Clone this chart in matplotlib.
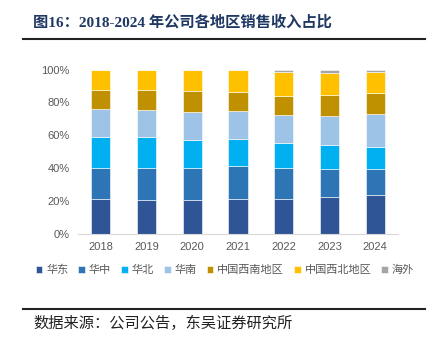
import matplotlib
matplotlib.use("Agg")
import matplotlib.pyplot as plt
from matplotlib.lines import Line2D
import numpy as np

plt.rcParams['font.family'] = ['Liberation Sans', 'Noto Sans CJK SC']

years = ['2018', '2019', '2020', '2021', '2022', '2023', '2024']
regions = ['华东', '华中', '华北', '华南', '中国西南地区', '中国西北地区', '海外']
# 占比(%)，自下而上
huadong = [21.0, 20.4, 20.4, 21.0, 21.0, 22.3, 23.5]
huazhong = [19.2, 19.8, 19.8, 20.6, 19.2, 17.0, 15.8]
huabei = [18.8, 18.8, 17.0, 16.2, 15.4, 15.0, 13.8]
huanan = [17.2, 16.6, 16.8, 16.8, 17.0, 17.6, 19.8]
xinan = [11.3, 12.1, 13.0, 11.7, 11.5, 12.8, 13.0]
xibei = [12.5, 12.3, 13.0, 13.4, 14.3, 13.1, 12.7]
haiwai = [0.0, 0.0, 0.0, 0.3, 1.6, 2.2, 1.4]
colors = ['#2F5597', '#2E75B6', '#00B0F0', '#9DC3E6', '#BF9000', '#FFC000', '#A5A5A5']

series = [huadong, huazhong, huabei, huanan, xinan, xibei, haiwai]

fig = plt.figure(figsize=(4.35, 3.41), dpi=100)
ax = fig.add_axes([0.179, 0.314, 0.736, 0.482])

x = np.arange(len(years))
bottom = np.zeros(len(years))
for s, c, name in zip(series, colors, regions):
    v = np.array(s) / 100
    ax.bar(x, v, width=0.42, bottom=bottom, color=c, label=name,
           edgecolor='white', linewidth=0.4)
    bottom += v

ax.set_xlim(-0.5, 6.5)
ax.set_ylim(0, 1)
ax.set_yticks(np.arange(0, 1.01, 0.2))
ax.set_yticklabels(['%d%%' % v for v in range(0, 101, 20)])
ax.set_xticks(x)
ax.set_xticklabels(years)
ax.tick_params(axis='both', length=0, labelsize=8, colors='#595959', pad=6)
for sp in ['top', 'right', 'left']:
    ax.spines[sp].set_visible(False)
ax.spines['bottom'].set_color('#D9D9D9')

handles, labels = ax.get_legend_handles_labels()
fig.legend(handles, labels, loc='center', bbox_to_anchor=(0.517, 0.208), ncol=7,
           frameon=False, fontsize=8, handlelength=0.6, handleheight=0.6,
           handletextpad=0.35, columnspacing=0.9, labelcolor='#595959')

fig.text(0.076, 0.935, '图16：2018-2024 年公司各地区销售收入占比', fontsize=11,
         fontweight='bold', color='#1F3864', va='center',
         family=['Liberation Serif', 'Noto Sans CJK SC'])
fig.add_artist(Line2D([0.053, 0.977], [0.886, 0.886], color='#222222', lw=1.5))
fig.add_artist(Line2D([0.053, 0.977], [0.095, 0.095], color='#222222', lw=1.5))
fig.text(0.076, 0.05, '数据来源：公司公告，东吴证券研究所', fontsize=11,
         color='#222222', va='center', family=['Noto Sans CJK SC'])

fig.savefig('out.png', dpi=100)
